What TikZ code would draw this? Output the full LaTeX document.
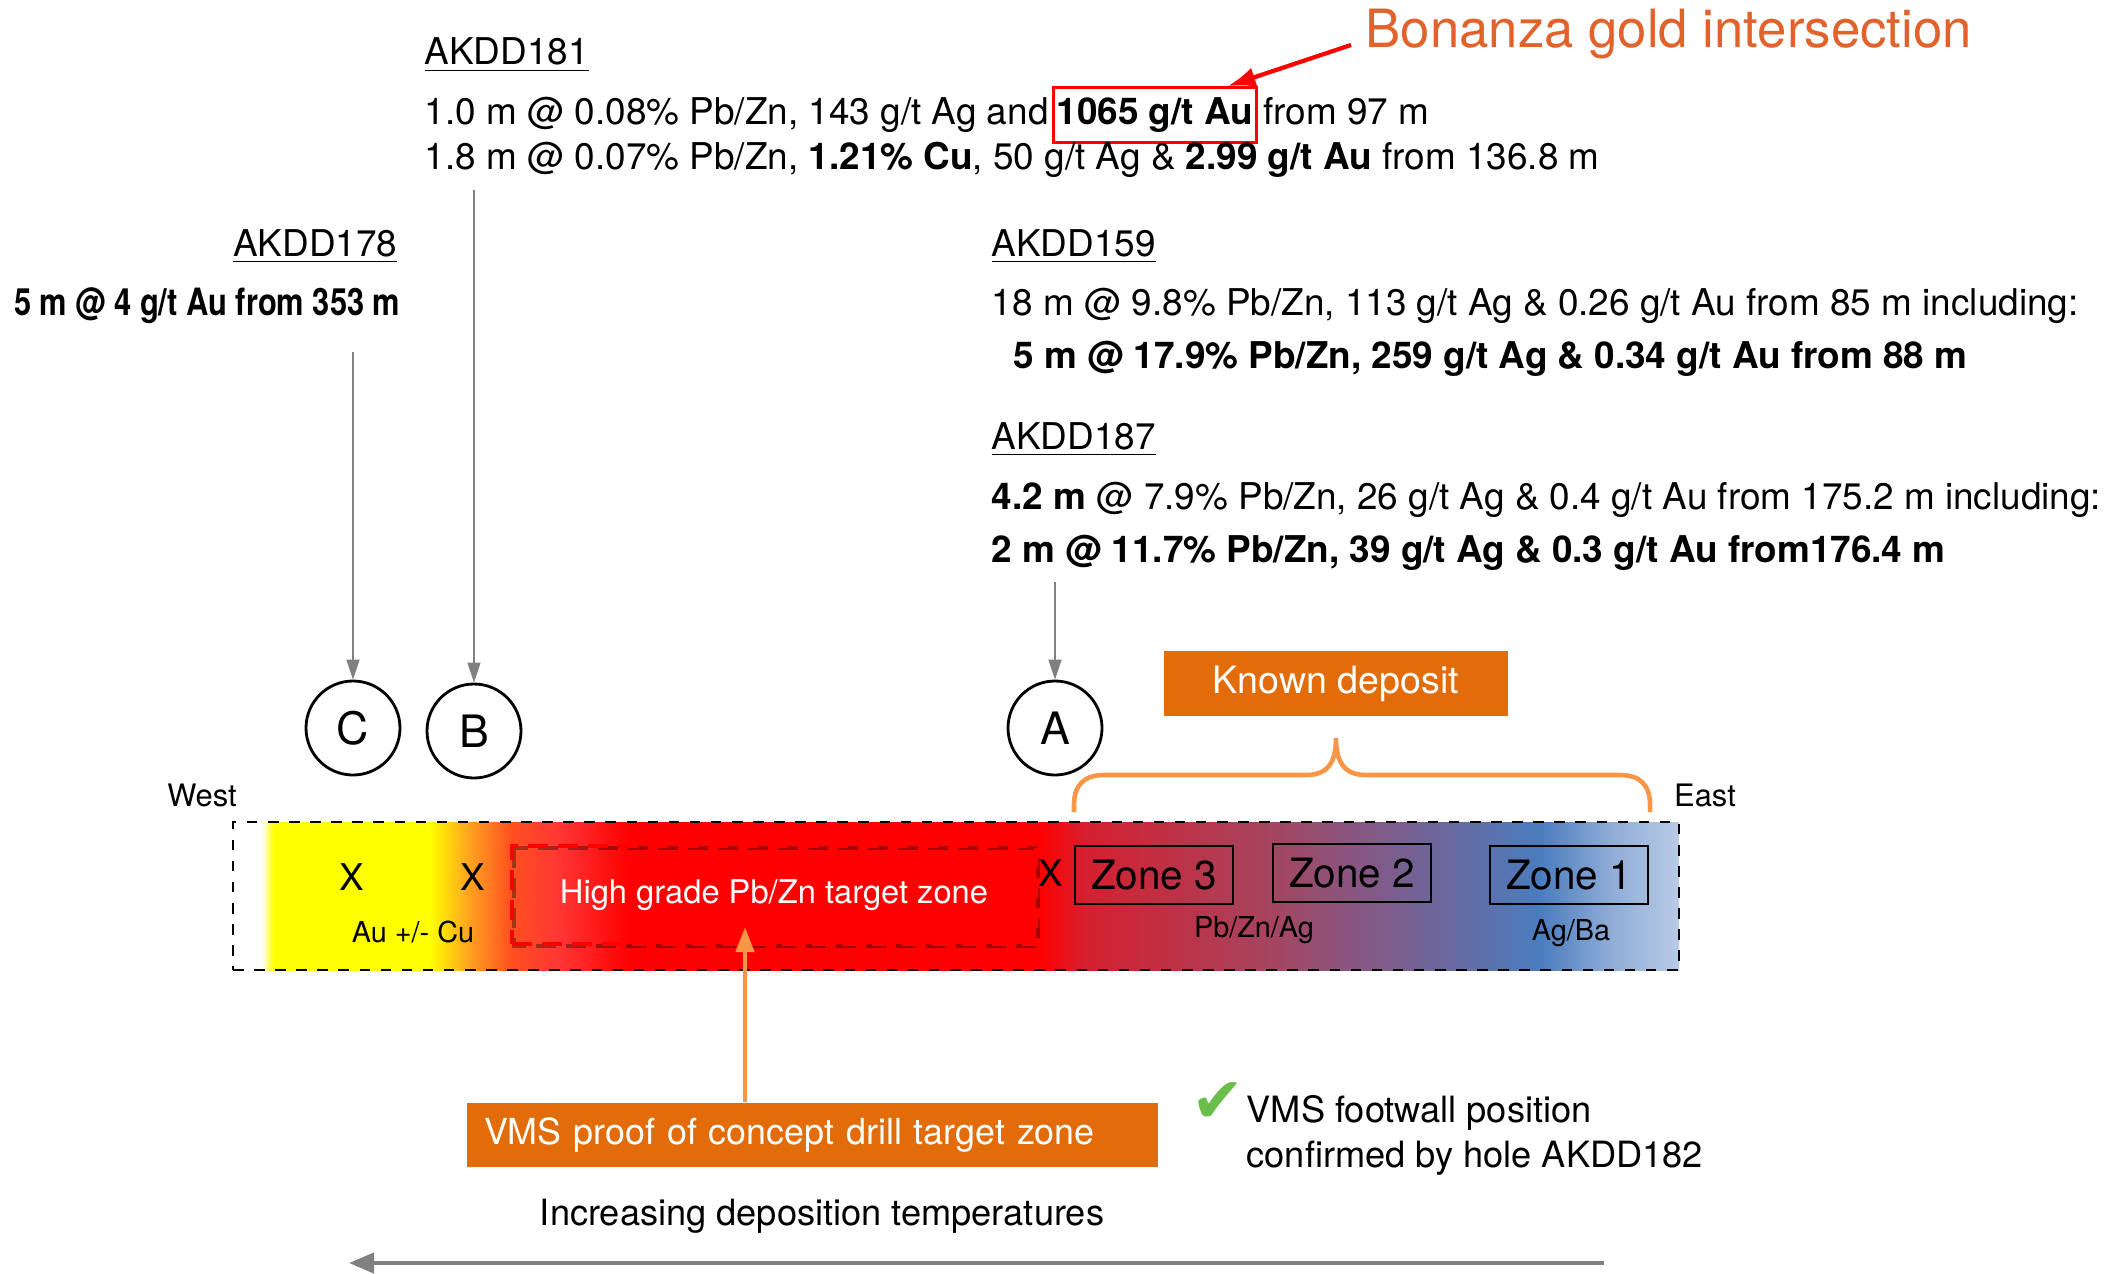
\documentclass[tikz,border=0pt]{standalone}
\usepackage{fontspec}
\setmainfont{TeX Gyre Heros}
\newfontfamily\symfont{DejaVu Sans}
\usepackage{graphicx}
\usetikzlibrary{arrows.meta,positioning,calc}

\definecolor{boxorange}{RGB}{227,108,10}
\definecolor{braceorange}{RGB}{247,150,70}
\definecolor{titleorange}{RGB}{226,98,44}
\definecolor{arrowgray}{RGB}{128,128,128}
\definecolor{checkgreen}{RGB}{108,190,75}
\definecolor{zorange}{RGB}{255,160,32}
\definecolor{zred}{RGB}{255,80,32}
\definecolor{zpink}{RGB}{255,53,53}
\definecolor{zcrimson}{RGB}{212,32,48}
\definecolor{zmauve}{RGB}{165,69,95}
\definecolor{zpurple}{RGB}{138,85,128}
\definecolor{zviolet}{RGB}{108,103,155}
\definecolor{zblue}{RGB}{74,124,190}
\definecolor{zlblue}{RGB}{143,172,215}
\definecolor{zpale}{RGB}{184,203,230}

\pgfdeclarehorizontalshading{bandshade}{100bp}{color(0bp)=(white); color(25bp)=(white);
  color(26.0bp)=(white); color(26.4bp)=(yellow); color(31.8bp)=(yellow); color(33.2bp)=(zorange);
  color(34.6bp)=(zred); color(36.3bp)=(zpink); color(38.7bp)=(red); color(52.9bp)=(red);
  color(54.5bp)=(zcrimson); color(60.9bp)=(zmauve); color(63.6bp)=(zpurple); color(66.7bp)=(zviolet);
  color(70.2bp)=(zblue); color(72.6bp)=(zlblue); color(75bp)=(zpale); color(100bp)=(zpale)}

\tikzset{
txt/.style = {inner sep=0pt, font=\fontsize{10.5}{12.6}\selectfont},
smalltxt/.style = {inner sep=0pt, font=\fontsize{8.2}{10}\selectfont},
hole/.style = {draw, thick, circle, fill=white, minimum size=0.94cm, inner sep=0pt, font=\fontsize{12.7}{14}\selectfont},
zonebox/.style = {draw, thick, rectangle, minimum width=1.58cm, minimum height=0.58cm, font=\fontsize{11.5}{13}\selectfont},
orangebox/.style = {fill=boxorange, text=white, rectangle, font=\fontsize{10.7}{12.8}\selectfont},
feed/.style = {draw=arrowgray, -{Triangle[length=0.2cm,width=0.13cm]}},
bracestyle/.style = {draw=braceorange, line width=1.3pt}
}

\begin{document}
\begin{tikzpicture}
  \useasboundingbox (0,0) rectangle (21.23,-12.73);

  % hole AKDD181
  \node [txt, anchor=base west]                         (t181)  at (4.24,-0.65)  {\underline{AKDD181}};
  \node [txt, anchor=base west]                         (l181a) at (4.24,-1.245) {1.0 m @ 0.08\% Pb/Zn, 143 g/t Ag and};
  \node [txt, anchor=base west, draw=red, thick, inner xsep=0.03cm, inner ysep=0.1cm]
                                                        (gold)  at ($(l181a.base east)+(0.03,0)$) {\textbf{1065 g/t Au}};
  \node [txt, anchor=base west]                         (l181c) at ($(gold.base east)+(0.05,0)$)  {from 97 m};
  \node [txt, anchor=base west]                         (l181b) at (4.24,-1.69)  {1.8 m @ 0.07\% Pb/Zn, \textbf{1.21\% Cu}, 50 g/t Ag \& \textbf{2.99 g/t Au} from 136.8 m};
  \node [anchor=base west, inner sep=0pt, text=titleorange, font=\fontsize{15}{18}\selectfont]
                                                        (bonanza) at (13.65,-0.47) {Bonanza gold intersection};

  % hole AKDD178
  \node [txt, anchor=base east]                         (t178)  at (3.98,-2.56)  {\underline{AKDD178}};
  \node [txt, anchor=base east]                         (l178)  at (4.01,-3.15)  {\scalebox{0.82}[1]{\fontsize{10.7}{12.8}\selectfont\bfseries 5 m @ 4 g/t Au from 353 m}};

  % holes AKDD159 and AKDD187
  \node [txt, anchor=base west]                         (t159)  at (9.91,-2.56)  {\underline{AKDD159}};
  \node [txt, anchor=base west]                         (l159a) at (9.91,-3.15)  {18 m @ 9.8\% Pb/Zn, 113 g/t Ag \& 0.26 g/t Au from 85 m including:};
  \node [txt, anchor=base west]                         (l159b) at (10.13,-3.68) {\textbf{5 m @ 17.9\% Pb/Zn, 259 g/t Ag \& 0.34 g/t Au from 88 m}};
  \node [txt, anchor=base west]                         (t187)  at (9.91,-4.49)  {\underline{AKDD187}};
  \node [txt, anchor=base west]                         (l187a) at (9.91,-5.09)  {\textbf{4.2 m} @ 7.9\% Pb/Zn, 26 g/t Ag \& 0.4 g/t Au from 175.2 m including:};
  \node [txt, anchor=base west]                         (l187b) at (9.91,-5.62)  {\textbf{2 m @ 11.7\% Pb/Zn, 39 g/t Ag \& 0.3 g/t Au from176.4 m}};

  % drill holes
  \node [hole]                                          (C)     at (3.53,-7.28)  {C};
  \node [hole]                                          (B)     at (4.74,-7.31)  {B};
  \node [hole]                                          (A)     at (10.55,-7.28) {A};
  \coordinate (ctop) at (3.53,-3.52);
  \coordinate (btop) at (4.74,-1.90);
  \coordinate (atop) at (10.55,-5.82);

  % zoned band
  \node [draw, dashed, thick, shading=bandshade, minimum width=14.46cm, minimum height=1.48cm, inner sep=0pt]
                                                        (band)  at (9.56,-8.96)  {};
  \node [smalltxt, font=\fontsize{8.8}{10}\selectfont]  (west)  at (2.02,-7.95)  {West};
  \node [smalltxt, font=\fontsize{8.8}{10}\selectfont]  (east)  at (17.05,-7.95) {East};
  \node [txt]                                           (x1)    at (3.52,-8.77)  {X};
  \node [txt]                                           (x2)    at (4.73,-8.77)  {X};
  \node [txt]                                           (x3)    at (10.51,-8.73) {X};
  \node [smalltxt]                                      (aucu)  at (4.13,-9.32)  {Au +/- Cu};
  \draw [black, opacity=0.35, line width=1.3pt, dash pattern=on 0.2cm off 0.1cm]
        (5.14,-8.48) rectangle (10.38,-9.46);
  \node [draw=red, line width=1.3pt, dash pattern=on 0.2cm off 0.1cm, text=white, minimum width=5.24cm,
         minimum height=0.98cm, inner sep=0pt, font=\fontsize{9.3}{11}\selectfont]
                                                        (hg)    at (7.74,-8.95)  {High grade Pb/Zn target zone};
  \node [zonebox]                                       (zone3) at (11.54,-8.75) {Zone 3};
  \node [zonebox]                                       (zone2) at (13.52,-8.73) {Zone 2};
  \node [zonebox]                                       (zone1) at (15.69,-8.75) {Zone 1};
  \node [smalltxt]                                      (pbzn)  at (12.54,-9.30) {Pb/Zn/Ag};
  \node [smalltxt]                                      (agba)  at (15.71,-9.33) {Ag/Ba};

  % known deposit
  \node [orangebox, minimum width=3.44cm, minimum height=0.65cm] (known) at (13.36,-6.835) {Known deposit};
  \draw [bracestyle] (10.74,-8.12) -- (10.74,-8.05) .. controls (10.74,-7.85) and (10.84,-7.75) .. (11.04,-7.75)
        -- (13.06,-7.75) .. controls (13.28,-7.75) and (13.36,-7.62) .. (13.36,-7.38)
        .. controls (13.36,-7.62) and (13.44,-7.75) .. (13.66,-7.75)
        -- (16.20,-7.75) .. controls (16.40,-7.75) and (16.50,-7.85) .. (16.50,-8.05) -- (16.50,-8.12);

  % drill target
  \node [orangebox, font=\fontsize{10.2}{12.3}\selectfont, minimum height=0.64cm, inner xsep=0.17cm,
         text width=6.57cm, align=left]                 (vms)   at (8.125,-11.35) {VMS proof of concept drill target zone};
  \coordinate (hgtip) at (7.45,-9.27);
  \node [text=checkgreen, inner sep=0pt, font=\symfont\fontsize{18}{18}\selectfont] (tick) at (12.18,-11.03) {✔};
  \node [txt, anchor=base west, font=\fontsize{10.3}{12.4}\selectfont] (fw1) at (12.46,-11.22) {VMS footwall position};
  \node [txt, anchor=base west, font=\fontsize{10.3}{12.4}\selectfont] (fw2) at (12.46,-11.67) {confirmed by hole AKDD182};
  \node [txt, font=\fontsize{10.3}{12.4}\selectfont]   (temp)  at (8.22,-12.16)  {Increasing deposition temperatures};
  \coordinate (tempr) at (16.04,-12.63);
  \coordinate (templ) at (3.49,-12.63);
  \coordinate (bonanzatail) at (13.51,-0.45);

  \draw [feed] (ctop) -- (C);
  \draw [feed] (btop) -- (B);
  \draw [feed] (atop) -- (A);
  \draw [red, line width=1.2pt, -{Latex[length=0.28cm,width=0.2cm]}] (bonanzatail) -- ([xshift=-0.3cm]gold.north east);
  \draw [draw=braceorange, line width=1.3pt, -{Triangle[length=0.25cm,width=0.18cm]}] (vms.north -| hgtip) -- (hgtip);
  \draw [draw=arrowgray, line width=1.2pt, -{Triangle[length=0.25cm,width=0.2cm]}] (tempr) -- (templ);
\end{tikzpicture}
\end{document}
